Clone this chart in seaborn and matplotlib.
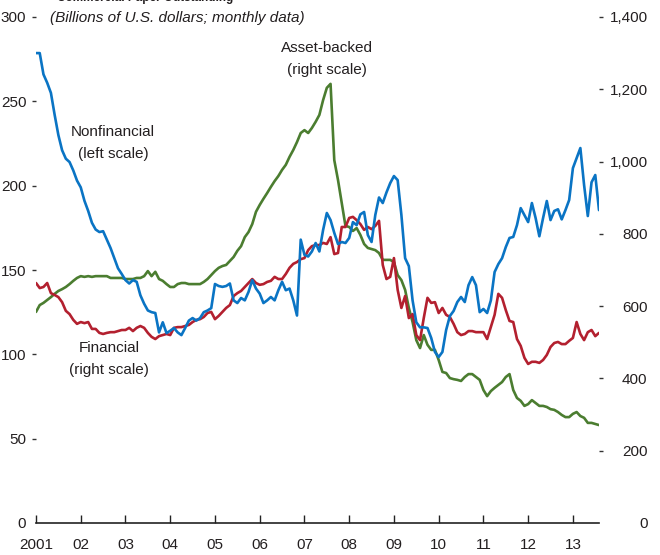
import numpy as np
import pandas as pd
import matplotlib
matplotlib.use("Agg")
import matplotlib.pyplot as plt
import seaborn as sns

# ---------------- data (monthly, Jan 2001 onward) ----------------
start_year = 2001

nonfinancial = [  # billions USD, left scale
    278.6, 278.6, 266, 261, 255, 242, 230, 221, 216, 214, 209, 203,
    199, 191, 185, 178, 174, 172.5, 173, 168, 163, 157, 151, 147.6,
    144, 142, 144, 143, 135, 130, 126, 125, 124.5, 113, 119, 112.6,
    114, 115.6, 113, 111.4, 115.6, 120, 121.5, 120, 121.5, 125, 126, 127.4,
    141.7, 140.5, 140, 140.5, 142, 132, 130.4, 133.4, 132, 137, 144, 139,
    136, 130.4, 132, 134, 132, 138, 143, 138, 139, 132, 123, 168,
    159, 158, 161, 166, 161, 173.7, 183.8, 179.6, 172, 165.4, 166.6, 166,
    169, 178.4, 176.6, 183, 184.4, 170.7, 166.6, 182.6, 193, 189.7, 196, 201.5,
    205.7, 203.3, 182.6, 157, 152.3, 132, 119, 116, 116, 115.6, 109.7, 101.4,
    98.4, 101.4, 114.4, 122.7, 125.7, 131, 134, 131, 141, 145.8, 141, 125,
    126.9, 124.5, 132, 148.8, 153.5, 157, 163.6, 169, 169.6, 176.6, 186.7, 182.6,
    178.4, 189.7, 180.8, 170, 180.8, 190.9, 179.6, 185, 186, 180, 185.5, 191.5,
    210.4, 216.4, 222.3, 200.4, 182, 202, 206.3, 185.5,
]

financial = [  # billions USD, right scale
    664, 650, 653, 664, 636, 631, 625, 611, 587, 578, 562, 551,
    556, 553, 556, 537, 537, 526, 523, 526, 528, 528, 531, 534,
    534, 540, 531, 540, 545, 540, 526, 515, 509, 517, 520, 523,
    520, 540, 542, 542, 545, 548, 556, 562, 564, 570, 581, 584,
    564, 573, 584, 595, 603, 628, 636, 642, 653, 664, 675, 664,
    659, 661, 667, 670, 681, 675, 675, 689, 706, 717, 722, 730,
    733, 755, 766, 769, 769, 775, 772, 791, 744, 747, 819, 819,
    844, 847, 838, 827, 811, 819, 813, 822, 836, 714, 675, 681,
    733, 645, 595, 628, 567, 578, 520, 506, 567, 623, 609, 611,
    581, 595, 576, 570, 551, 528, 520, 523, 531, 531, 528, 528,
    528, 509, 542, 576, 634, 623, 589, 559, 556, 509, 490, 457,
    440, 446, 446, 443, 451, 465, 487, 498, 501, 495, 495, 504,
    512, 556, 523, 506, 528, 534, 517, 526,
]

asset_backed = [  # billions USD, right scale
    584, 603, 609, 617, 625, 634, 642, 647, 653, 661, 670, 678,
    683, 681, 683, 681, 683, 683, 683, 683, 678, 678, 678, 678,
    675, 675, 675, 678, 678, 683, 697, 683, 695, 675, 670, 661,
    653, 653, 661, 664, 664, 661, 661, 661, 661, 667, 675, 686,
    697, 706, 711, 714, 725, 736, 753, 766, 791, 805, 827, 861,
    880, 897, 913, 930, 946, 960, 977, 991, 1013, 1032, 1054, 1079,
    1087, 1079, 1093, 1110, 1129, 1170, 1204, 1215, 1004, 949, 885, 822,
    819, 808, 816, 797, 772, 761, 758, 755, 747, 728, 728, 728,
    722, 686, 672, 645, 595, 556, 506, 484, 520, 493, 479, 479,
    451, 418, 415, 401, 398, 396, 393, 404, 412, 412, 404, 396,
    368, 351, 365, 374, 382, 390, 404, 412, 368, 346, 338, 324,
    329, 340, 332, 324, 324, 321, 315, 313, 307, 299, 293, 293,
    302, 307, 296, 291, 277, 277, 274, 271,
]

year_ticks = list(range(2001, 2014))
year_labels = ["2001", "02", "03", "04", "05", "06", "07",
               "08", "09", "10", "11", "12", "13"]
left_ticks = [0, 50, 100, 150, 200, 250, 300]
left_labels = ["0", "50", "100", "150", "200", "250", "300"]
right_ticks = [0, 200, 400, 600, 800, 1000, 1200, 1400]
right_labels = ["0", "200", "400", "600", "800", "1,000", "1,200", "1,400"]

# ---------------- build table ----------------
n = len(nonfinancial)
df = pd.DataFrame({
    "t": start_year + np.arange(n) / 12.0,
    "Nonfinancial": nonfinancial,
    "Financial": financial,
    "Asset-backed": asset_backed,
})

BLUE = "#0a74c4"
RED = "#b3202f"
GREEN = "#4b7d30"
TXT = "#231f20"
FS = 11

sns.set_style("white")
plt.rcParams["font.family"] = ["Liberation Sans", "DejaVu Sans"]
plt.rcParams["font.size"] = FS

W, H = 660, 555
fig = plt.figure(figsize=(W / 100, H / 100), dpi=100)
x0, x1, ytop, ybot = 36, 599, 17, 523
ax = fig.add_axes([x0 / W, 1 - ybot / H, (x1 - x0) / W, (ybot - ytop) / H])
ax2 = ax.twinx()

sns.lineplot(data=df, x="t", y="Asset-backed", ax=ax2, color=GREEN, lw=1.9)
sns.lineplot(data=df, x="t", y="Financial", ax=ax2, color=RED, lw=1.9)
sns.lineplot(data=df, x="t", y="Nonfinancial", ax=ax, color=BLUE, lw=1.9)

ax.set_zorder(ax2.get_zorder() + 1)
ax.patch.set_visible(False)

xmax = start_year + (n - 1) / 12.0
for a in (ax, ax2):
    a.set_xlim(start_year, xmax)
    a.set_xlabel("")
    a.set_ylabel("")
    for s in ("left", "right", "top", "bottom"):
        a.spines[s].set_visible(False)
    a.grid(False)

ax.spines["bottom"].set_visible(True)
ax.spines["bottom"].set_color("#222222")
ax.spines["bottom"].set_linewidth(1.2)

ax.set_ylim(0, 300)
ax2.set_ylim(0, 1400)

ax.set_xticks(year_ticks)
ax.set_xticklabels(year_labels, color=TXT, fontsize=FS)
ax.tick_params(axis="x", direction="in", length=6, width=1.0, color="#222222",
               pad=11, bottom=True)

ax.set_yticks(left_ticks)
ax.set_yticklabels(left_labels, color=TXT, fontsize=FS)
ax.tick_params(axis="y", direction="out", length=3, width=1.0, color="#333333",
               pad=4, left=True)
ax.yaxis.get_major_ticks()[0].tick1line.set_visible(False)

ax2.set_yticks(right_ticks)
ax2.set_yticklabels(right_labels, color=TXT, fontsize=FS)
ax2.tick_params(axis="y", direction="out", length=3, width=1.0, color="#333333",
                pad=32, right=True)
for lab in ax2.get_yticklabels():
    lab.set_horizontalalignment("right")
ax2.yaxis.get_major_ticks()[0].tick2line.set_visible(False)
ax2.tick_params(axis="x", bottom=False, labelbottom=False)


def fx(px):
    return px / W


def fy(py):
    return 1 - py / H


fig.text(fx(57), fy(1), "Commercial Paper Outstanding", ha="left",
         va="baseline", fontsize=8.5, fontweight="bold", color=TXT)
fig.text(fx(50), fy(18), "(Billions of U.S. dollars; monthly data)", ha="left",
         va="center", fontsize=FS, style="italic", color=TXT)
fig.text(fx(113), fy(143), "Nonfinancial\n(left scale)", ha="center",
         va="center", fontsize=FS, color=TXT, linespacing=1.65)
fig.text(fx(327), fy(59), "Asset-backed\n(right scale)", ha="center",
         va="center", fontsize=FS, color=TXT, linespacing=1.65)
fig.text(fx(109), fy(359), "Financial\n(right scale)", ha="center",
         va="center", fontsize=FS, color=TXT, linespacing=1.65)

fig.savefig("out.png", dpi=100)
